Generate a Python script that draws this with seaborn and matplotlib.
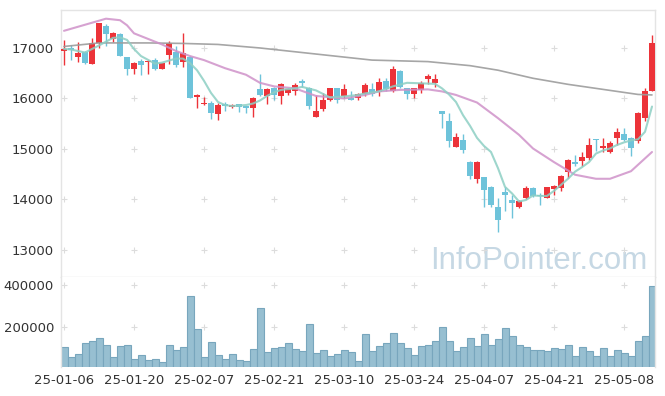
import numpy as np
import pandas as pd
import seaborn as sns
import matplotlib
matplotlib.use("Agg")
import matplotlib.pyplot as plt

sns.set_theme(style="white")
plt.rcParams['font.family'] = ['DejaVu Sans']

# trading days (KRX holidays removed)
holidays = ['2025-01-27', '2025-01-28', '2025-01-29', '2025-01-30',
            '2025-03-03', '2025-05-01', '2025-05-05', '2025-05-06']
days = pd.bdate_range('2025-01-06', '2025-05-14')
days = days[~days.isin(pd.to_datetime(holidays))]

open_ = [16950, 17000, 16830, 16930, 16690, 17090, 17440, 17180, 17270, 16820,
         16590, 16740, 16720, 16760, 16590, 16860, 16920, 16730, 16830, 16020,
         15890, 15920, 15690, 15890, 15830, 15890, 15850, 15810, 16180, 16040,
         16200, 16050, 16110, 16140, 16350, 16200, 15630, 15790, 15960, 16200,
         16040, 16000, 16000, 16090, 16180, 16120, 16350, 16150, 16550, 16200,
         16090, 16170, 16390, 16310, 15750, 15560, 15030, 15180, 14750, 14410,
         14450, 14250, 13860, 14140, 13980, 13860, 14020, 14230, 14090, 14020,
         14210, 14230, 14550, 14750, 14760, 14830, 15200, 15010, 14950, 15220,
         15290, 15210, 15150, 15620, 16140]
high = [17150, 17050, 17120, 16950, 17200, 17500, 17480, 17320, 17300, 16830,
        16720, 16790, 16760, 16800, 16700, 17130, 17030, 17290, 16840, 16090,
        16020, 15950, 15920, 15940, 15900, 15900, 15860, 16020, 16480, 16200,
        16220, 16300, 16200, 16300, 16380, 16230, 16070, 16100, 16210, 16210,
        16290, 16150, 16110, 16310, 16310, 16400, 16400, 16640, 16560, 16210,
        16200, 16350, 16490, 16490, 15760, 15710, 15310, 15300, 14760, 14760,
        14450, 14260, 14020, 14240, 14090, 13990, 14270, 14240, 14120, 14250,
        14290, 14490, 14800, 14880, 14950, 15210, 15200, 15220, 15150, 15410,
        15420, 15240, 15730, 16200, 17260]
low = [16660, 16770, 16720, 16690, 16680, 17000, 17030, 17120, 16840, 16460,
       16480, 16460, 16490, 16560, 16590, 16690, 16630, 16630, 16000, 15810,
       15880, 15590, 15570, 15760, 15810, 15740, 15710, 15630, 16040, 15900,
       15970, 15900, 16070, 16070, 16230, 15790, 15630, 15760, 15950, 15920,
       16000, 15960, 15970, 16050, 16040, 16040, 16150, 16120, 16200, 15980,
       16000, 16100, 16290, 16220, 15410, 15030, 15030, 14930, 14400, 14320,
       13850, 13850, 13360, 13780, 13630, 13830, 14000, 14040, 13890, 14020,
       14090, 14170, 14430, 14670, 14670, 14780, 14960, 14950, 14920, 15070,
       15150, 14860, 15110, 15560, 16140]
close = [16970, 16960, 16900, 16700, 17100, 17490, 17280, 17300, 16840, 16590,
         16700, 16670, 16740, 16590, 16700, 17100, 16670, 16910, 16000, 16060,
         15920, 15710, 15870, 15850, 15870, 15830, 15820, 16000, 16070, 16180,
         16070, 16280, 16180, 16270, 16310, 15860, 15760, 15970, 16200, 15960,
         16180, 15970, 16090, 16270, 16090, 16320, 16180, 16580, 16230, 16090,
         16200, 16300, 16450, 16390, 15690, 15150, 15230, 14970, 14470, 14750,
         14180, 13890, 13590, 14080, 13930, 13970, 14230, 14060, 14070, 14240,
         14270, 14470, 14780, 14700, 14850, 15070, 15170, 15060, 15110, 15330,
         15180, 15010, 15710, 16150, 17090]
volume = [104000, 56000, 70000, 123000, 133000, 147000, 113000, 56000, 109000, 113000,
          46000, 65000, 41000, 46000, 32000, 113000, 89000, 104000, 349000, 190000,
          56000, 128000, 65000, 46000, 70000, 41000, 37000, 94000, 291000, 80000,
          99000, 104000, 123000, 94000, 85000, 214000, 75000, 89000, 62000, 72000,
          91000, 81000, 38000, 168000, 86000, 109000, 124000, 173000, 124000, 100000,
          67000, 110000, 115000, 134000, 200000, 134000, 86000, 105000, 149000, 110000,
          168000, 115000, 144000, 197000, 158000, 115000, 105000, 91000, 91000, 86000,
          100000, 96000, 115000, 62000, 105000, 86000, 62000, 100000, 62000, 91000,
          76000, 62000, 134000, 158000, 399000]

# moving average lines (bar index, price)
ma5_idx = [0, 1, 3, 5, 7, 8, 9, 10, 11, 13, 14, 16, 17, 18, 19, 20, 21, 22, 23, 24,
           26, 27, 28, 29, 30, 31, 33, 34, 36, 38, 40, 42, 43, 45, 47, 49, 51, 53, 54,
           55, 56, 57, 58, 59, 60, 61, 62, 63, 64, 65, 66, 67, 68, 69, 70, 71, 72, 73,
           74, 75, 76, 77, 78, 79, 80, 81, 82, 83, 84]
ma5_val = [16980, 16970, 16910, 17050, 17200, 17210, 17160, 16980, 16840, 16690,
           16710, 16790, 16790, 16700, 16560, 16350, 16110, 15930, 15870, 15850,
           15870, 15900, 15960, 16050, 16120, 16170, 16200, 16230, 16160, 16020,
           16040, 16070, 16100, 16140, 16240, 16310, 16300, 16290, 16200, 16080,
           15930, 15670, 15460, 15220, 15060, 14940, 14620, 14250, 14120, 13960,
           13990, 14080, 14070, 14070, 14170, 14290, 14410, 14550, 14640, 14740,
           14910, 14970, 15010, 15080, 15130, 15170, 15190, 15340, 15840]
ma20_idx = [0, 2, 4, 6, 8, 9, 10, 12, 14, 16, 18, 20, 23, 26, 28, 30, 33, 36, 40, 43,
            45, 48, 52, 54, 56, 59, 62, 65, 67, 70, 73, 76, 78, 81, 84]
ma20_val = [17340, 17420, 17500, 17580, 17550, 17450, 17290, 17180, 17070, 16940,
            16840, 16760, 16600, 16470, 16310, 16240, 16200, 16050, 16000, 16070,
            16140, 16170, 16180, 16140, 16070, 15920, 15610, 15280, 15010, 14740,
            14490, 14410, 14410, 14560, 14940]
ma60_idx = [0, 5, 12, 17, 22, 28, 34, 40, 44, 52, 58, 62, 67, 72, 77, 82, 84]
ma60_val = [17030, 17100, 17100, 17090, 17070, 17000, 16910, 16820, 16760, 16730,
            16650, 16560, 16400, 16280, 16180, 16080, 16070]

RED = '#ec3339'
BLUE = '#6ec3da'

df = pd.DataFrame({'date': days, 'open': open_, 'high': high, 'low': low,
                   'close': close, 'volume': volume})
df['i'] = np.arange(len(df))
colors = np.where(df['close'] >= df['open'], RED, BLUE)

fig = plt.figure(figsize=(6.65, 3.96), dpi=100)
ax = fig.add_axes([61 / 665, (396 - 277) / 396, 594 / 665, 267 / 396])
axv = fig.add_axes([61 / 665, (396 - 367.3) / 396, 594 / 665, 90.3 / 396], sharex=ax)

# candles
ax.vlines(df['i'], df['low'], df['high'], colors=colors, lw=1, zorder=2)
body = (df['close'] - df['open']).abs().clip(lower=20)
ax.bar(df['i'], body, bottom=df[['open', 'close']].min(axis=1), width=0.72,
       color=colors, linewidth=0, zorder=3)

# moving averages
sns.lineplot(x=ma60_idx, y=ma60_val, ax=ax, color='#9c9c9c', lw=1.2, alpha=0.9, zorder=4)
sns.lineplot(x=ma20_idx, y=ma20_val, ax=ax, color='#cf92c9', lw=1.5, alpha=0.85, zorder=4)
sns.lineplot(x=ma5_idx, y=ma5_val, ax=ax, color='#8dcfc4', lw=1.5, alpha=0.85, zorder=4)

# volume
axv.bar(df['i'], df['volume'], width=1.0, color='#97bfd1', edgecolor='#78a6bd',
        linewidth=0.8, zorder=2)

ax.set_xlim(-3 / 7, 84 + 3 / 7)
ax.set_ylim(12465, 17752)
axv.set_ylim(7700, 440400)

price_ticks = [13000, 14000, 15000, 16000, 17000]
vol_ticks = [200000, 400000]
xt = df['i'].values[::10]
ax.set_yticks(price_ticks)
ax.set_yticklabels([str(t) for t in price_ticks])
axv.set_yticks(vol_ticks)
axv.set_yticklabels([str(t) for t in vol_ticks])
axv.set_xticks(xt)
axv.set_xticklabels(df['date'].dt.strftime('%y-%m-%d').values[::10])
ax.tick_params(axis='x', labelbottom=False, length=0)
for a in (ax, axv):
    a.tick_params(axis='both', length=0, labelsize=9.5, labelcolor='#333333', pad=5)
    a.set_xlabel('')
    a.set_ylabel('')
    for s in a.spines.values():
        s.set_color('#e4e4e4')
        s.set_linewidth(1)
axv.spines['bottom'].set_visible(False)
axv.spines['top'].set_visible(False)

# little crosses on the grid points
gx, gy = np.meshgrid(xt, price_ticks)
ax.plot(gx.ravel(), gy.ravel(), '+', color='#dcdcdc', ms=4, mew=0.8, zorder=1)
gx, gy = np.meshgrid(xt, vol_ticks)
axv.plot(gx.ravel(), gy.ravel(), '+', color='#dcdcdc', ms=4, mew=0.8, zorder=1)

ax.text(0.988, 0.03, 'InfoPointer.com', transform=ax.transAxes, ha='right',
        va='baseline', fontsize=22.5, family=['Liberation Sans', 'DejaVu Sans'],
        color='#c6d8e4', zorder=0)

fig.savefig('out.png', dpi=100)
